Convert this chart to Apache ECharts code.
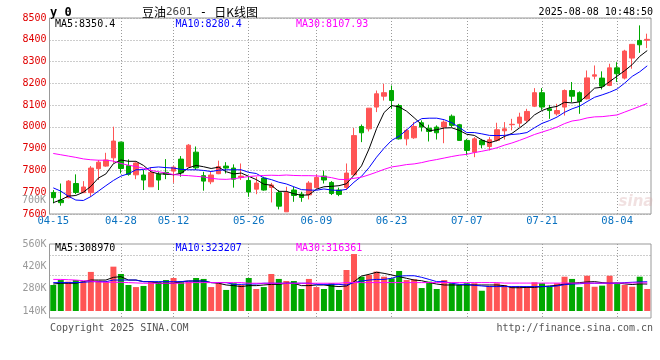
<!DOCTYPE html>
<html><head><meta charset="utf-8">
<script src="https://cdn.jsdelivr.net/npm/echarts@6/dist/echarts.min.js"></script>
<style>html,body{margin:0;padding:0;background:#fff}#c{width:660px;height:360px}</style>
</head><body><div id="c"></div>
<script>
// ---------- data ----------
const dates = ['04-15','04-16','04-17','04-18','04-21','04-22','04-23','04-24','04-25','04-28',
 '04-29','04-30','05-06','05-07','05-08','05-09','05-12','05-13','05-14','05-15',
 '05-16','05-19','05-20','05-21','05-22','05-23','05-26','05-27','05-28','05-29',
 '05-30','06-03','06-04','06-05','06-06','06-09','06-10','06-11','06-12','06-13',
 '06-16','06-17','06-18','06-19','06-20','06-23','06-24','06-25','06-26','06-27',
 '06-30','07-01','07-02','07-03','07-04','07-07','07-08','07-09','07-10','07-11',
 '07-14','07-15','07-16','07-17','07-18','07-21','07-22','07-23','07-24','07-25',
 '07-28','07-29','07-30','07-31','08-01','08-04','08-05','08-06','08-07','08-08'];
const tickLabels = ['04-15','04-28','05-12','05-26','06-09','06-23','07-07','07-21','08-04'];

const opens = [7699,7664,7675,7740,7698,7698,7808,7820,7858,7930,
 7822,7780,7779,7725,7782,7791,7797,7852,7817,7884,
 7776,7748,7785,7820,7811,7768,7754,7714,7765,7722,
 7698,7610,7710,7691,7688,7721,7774,7745,7710,7722,
 7780,8002,7991,8091,8141,8167,8098,7945,7950,8019,
 7994,7999,7999,8049,8010,7938,7884,7938,7910,7938,
 7982,8010,8017,8030,8095,8157,8083,8060,8091,8167,
 8157,8129,8233,8224,8190,8271,8224,8316,8397,8398];
const closes = [7675,7652,7751,7699,7724,7811,7838,7848,7935,7809,
 7782,7834,7756,7791,7756,7782,7815,7789,7916,7812,
 7751,7779,7818,7811,7760,7774,7701,7742,7710,7733,
 7636,7699,7685,7676,7742,7768,7756,7694,7690,7788,
 7960,7973,8086,8152,8157,8121,7945,7984,8002,7999,
 7979,7973,8022,8007,7938,7892,7945,7918,7941,7987,
 7991,8012,8045,8071,8157,8091,8075,8075,8167,8141,
 8117,8225,8239,8187,8271,8244,8348,8379,8377,8402];
const lows = [7649,7638,7672,7691,7697,7679,7756,7817,7835,7786,
 7776,7760,7710,7725,7710,7760,7743,7771,7814,7802,
 7707,7737,7783,7786,7721,7756,7679,7691,7707,7653,
 7621,7610,7656,7656,7667,7717,7740,7687,7682,7710,
 7775,7930,7979,8068,8121,8083,7942,7915,7945,7979,
 7933,7942,7925,7999,7938,7869,7861,7902,7892,7933,
 7942,7984,7999,8022,8091,8078,8037,8052,8052,8114,
 8060,8126,8218,8172,8187,8206,8218,8267,8340,8362];
const highs = [7710,7740,7756,7782,7751,7820,7848,7881,8001,7932,
 7851,7837,7802,7814,7794,7852,7820,7866,7921,7910,
 7794,7794,7845,7838,7828,7832,7774,7771,7771,7743,
 7710,7725,7725,7702,7751,7782,7799,7751,7721,7832,
 7995,8011,8086,8167,8198,8190,8106,7991,8022,8030,
 8010,8007,8030,8057,8014,7945,7953,7945,7953,8019,
 8022,8037,8065,8083,8178,8178,8101,8106,8172,8206,
 8163,8259,8282,8255,8290,8297,8354,8379,8466,8428];

const ma5 = [7652,7665,7682,7685,7700,7727,7765,7784,7831,7848,
 7842,7842,7823,7794,7784,7784,7780,7787,7812,7823,
 7817,7809,7815,7794,7784,7788,7773,7758,7737,7732,
 7704,7704,7693,7686,7688,7714,7725,7727,7730,7739,
 7778,7821,7899,7992,8066,8098,8092,8072,8042,8010,
 7982,7987,7995,7996,7984,7966,7961,7940,7927,7937,
 7956,7970,7995,8021,8055,8075,8088,8094,8113,8110,
 8115,8145,8178,8182,8208,8233,8258,8286,8324,8350.4];
const ma10 = [7720,7705,7682,7664,7662,7680,7705,7730,7754,7774,
 7785,7803,7804,7813,7816,7813,7811,7805,7803,7803,
 7800,7795,7801,7803,7803,7803,7791,7786,7766,7758,
 7746,7738,7725,7712,7710,7709,7715,7710,7708,7713,
 7746,7773,7813,7861,7902,7938,7957,7986,8017,8038,
 8040,8040,8033,8019,7997,7974,7974,7968,7961,7960,
 7961,7965,7968,7974,7996,8016,8029,8045,8067,8083,
 8095,8116,8136,8147,8159,8174,8201,8232,8253,8280.4];
const ma30 = [7878,7872,7866,7860,7853,7849,7847,7847,7843,7832,
 7824,7818,7810,7800,7794,7788,7781,7778,7776,7773,
 7770,7764,7760,7759,7762,7767,7772,7775,7777,7778,
 7777,7779,7777,7776,7776,7775,7772,7767,7759,7758,
 7764,7769,7780,7792,7805,7816,7821,7827,7830,7836,
 7844,7850,7857,7864,7870,7874,7882,7888,7895,7904,
 7916,7926,7938,7951,7965,7976,7987,7999,8015,8027,
 8032,8041,8046,8047,8051,8055,8068,8081,8094,8107.93];

// volume, in thousands of lots
const volumes = [303,334,324,334,324,385,330,324,418,372,
 303,290,297,324,324,334,347,324,324,347,
 341,290,314,272,314,303,347,278,290,372,
 341,328,328,278,341,290,278,314,272,397,
 497,355,366,387,355,345,391,334,339,284,
 324,278,334,314,303,314,314,267,297,314,
 303,292,297,292,320,314,292,314,355,341,
 290,361,292,299,361,309,303,292,355,278];
const vma5 = [309,314,314,314,324,334,334,334,351,355,
 334,334,324,324,314,314,314,324,328,328,
 328,318,314,303,299,293,299,299,303,307,
 307,314,314,299,299,303,303,297,293,297,
 324,359,370,383,376,366,355,345,334,330,
 318,309,303,303,303,303,303,303,303,303,
 299,286,286,288,288,293,297,301,309,314,
 318,322,324,318,314,316,310,306,310,308.97];
const vma10 = [318,318,318,318,320,324,324,324,334,334,
 334,334,324,324,324,324,324,324,328,328,
 328,318,318,318,307,307,309,309,314,314,
 314,314,314,314,314,307,307,307,307,303,
 318,328,334,338,338,345,359,361,361,351,
 338,324,324,314,307,307,301,297,293,293,
 293,293,293,293,293,293,293,297,305,309,
 311,314,314,314,314,314,318,320,322,323.207];
const vma30 = [338,338,336,334,330,328,322,320,320,320,
 318,316,314,314,314,314,314,314,318,318,
 318,318,318,318,318,318,314,314,314,314,
 314,314,314,314,314,314,314,314,314,318,
 318,318,318,318,318,318,318,318,318,318,
 318,318,318,318,318,318,318,318,318,318,
 315,315,315,315,315,315,315,315,315,315,
 315,315,315,315,315,315,315,316,316,316.361];

const priceTicks = {min: 7600, max: 8500, step: 100};
const volTicks = {min: 140, max: 560, step: 140};
const maLegend = ['MA5:8350.4', 'MA10:8280.4', 'MA30:8107.93'];
const volLegend = ['MA5:308970', 'MA10:323207', 'MA30:316361'];

// ---------- chart ----------
const RED = '#ff5555', GREEN = '#00a800';
const MONO = '"DejaVu Sans Mono","Liberation Mono",monospace';
const dotted = {type: [1, 2], color: '#9a9a9a', width: 1};
const isTick = (i, v) => tickLabels.indexOf(v) >= 0;
const isGrid = (i, v) => i > 0 && tickLabels.indexOf(v) >= 0;
const candleData = dates.map((d, i) => [opens[i], closes[i], lows[i], highs[i]]);

const chart = echarts.init(document.getElementById('c'));
const lineS = (data, color, xi) => ({type: 'line', data, xAxisIndex: xi, yAxisIndex: xi, symbol: 'none',
  silent: true, lineStyle: {width: 1, color}, z: 4});

function txt(x, y, text, fill, font, align) {
  return {type: 'text', x, y, silent: true, style: {text, fill, font: font || ('10px ' + MONO),
    align: align || 'left', verticalAlign: 'middle'}};
}

chart.setOption({
  animation: false,
  grid: [
    {left: 49.5, right: 9, top: 18, height: 196, show: true, borderColor: '#999', borderWidth: 1},
    {left: 49.5, right: 9, top: 244, height: 67, show: false},
    {left: 49.5, right: 9, top: 244, height: 74, show: true, borderColor: '#999', borderWidth: 1}
  ],
  xAxis: [
    {type: 'category', gridIndex: 0, data: dates, boundaryGap: true,
     axisLine: {show: false}, axisTick: {show: false},
     axisLabel: {interval: isTick, color: '#0a72c0', fontFamily: MONO, fontSize: 10.5, margin: 2},
     splitLine: {show: true, interval: isGrid, alignWithLabel: true, lineStyle: dotted}},
    {type: 'category', gridIndex: 1, data: dates, boundaryGap: true,
     axisLine: {show: false}, axisTick: {show: false}, axisLabel: {show: false}, splitLine: {show: false}},
    {type: 'category', gridIndex: 2, data: dates, boundaryGap: true,
     axisLine: {show: false}, axisTick: {show: false}, axisLabel: {show: false},
     splitLine: {show: true, interval: isGrid, alignWithLabel: true, lineStyle: dotted}}
  ],
  yAxis: [
    {type: 'value', gridIndex: 0, min: priceTicks.min, max: priceTicks.max, interval: priceTicks.step,
     axisLine: {show: false}, axisTick: {show: false},
     axisLabel: {color: '#e00000', fontFamily: MONO, fontSize: 10, margin: 3, formatter: v => String(v)},
     splitLine: {show: true, lineStyle: dotted}},
    {type: 'value', gridIndex: 1, min: volTicks.min, max: volTicks.max, interval: volTicks.step,
     axisLine: {show: false}, axisTick: {show: false},
     axisLabel: {color: '#999', fontFamily: MONO, fontSize: 10, margin: 3, formatter: v => v + 'K'},
     splitLine: {show: false}},
    {type: 'value', gridIndex: 2, min: 0, max: 1, show: false, splitLine: {show: false}}
  ],
  series: [
    {type: 'candlestick', xAxisIndex: 0, yAxisIndex: 0, data: candleData, barWidth: 5, silent: true,
     itemStyle: {color: RED, color0: GREEN, borderColor: RED, borderColor0: GREEN, borderWidth: 1}, z: 3},
    lineS(ma5, '#000000', 0),
    lineS(ma10, '#0000ff', 0),
    lineS(ma30, '#ff00ff', 0),
    {type: 'bar', xAxisIndex: 1, yAxisIndex: 1, data: volumes, barWidth: 6, silent: true, z: 3,
     itemStyle: {color: p => closes[p.dataIndex] >= opens[p.dataIndex] ? RED : GREEN},
     markLine: {silent: true, symbol: 'none', label: {show: false}, z: 1,
       lineStyle: {type: [1, 2], color: '#9a9a9a', width: 1},
       data: [{yAxis: 487}, {yAxis: 361}]}},
    lineS(vma5, '#000000', 1),
    lineS(vma10, '#0000ff', 1),
    lineS(vma30, '#ff00ff', 1)
  ],
  graphic: [
    txt(50, 12.5, 'y 0', '#000', 'bold 12px ' + MONO),
    {type: 'text', x: 142, y: 12.5, silent: true, style: {
      text: '{a|豆油}{b|2601}{c| - }{a|日K线图}', verticalAlign: 'middle',
      rich: {a: {fontFamily: '"Noto Sans CJK SC"', fontSize: 12, fill: '#000'},
             b: {fontFamily: MONO, fontSize: 11, fill: '#444'},
             c: {fontFamily: MONO, fontSize: 12, fill: '#000'}}}},
    txt(653, 12.5, '2025-08-08 10:48:50', '#000', '10px ' + MONO, 'right'),
    txt(55, 24, maLegend[0], '#000'),
    txt(175.5, 24, maLegend[1], '#0000ff'),
    txt(296, 24, maLegend[2], '#ff00ff'),
    txt(55, 248, volLegend[0], '#000'),
    txt(175.5, 248, volLegend[1], '#0000ff'),
    txt(296, 248, volLegend[2], '#ff00ff'),
    txt(46, 200, '700K', '#999', '10px ' + MONO, 'right'),
    txt(50, 328, 'Copyright 2025 SINA.COM', '#555', '10px ' + MONO),
    txt(653, 328, 'http://finance.sina.com.cn', '#555', '10px ' + MONO, 'right'),
    txt(636, 202, 'sina', 'rgba(215,170,170,0.35)', 'italic bold 15px "DejaVu Sans"', 'center')
  ]
});
</script></body></html>
